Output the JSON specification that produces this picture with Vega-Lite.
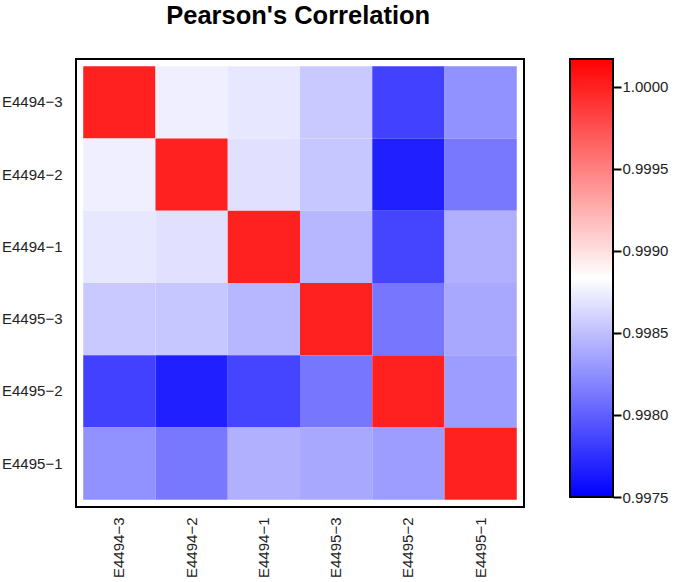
{
  "$schema": "https://vega.github.io/schema/vega-lite/v6.json",
  "padding": {"left": 0, "top": 3, "right": 5, "bottom": 5},
  "background": "white",
  "title": {"text": "Pearson's Correlation", "font": "Liberation Sans", "fontSize": 25.5, "fontWeight": "bold", "color": "black", "anchor": "middle", "dx": -36, "offset": 29},
  "config": {"font": "Liberation Sans"},
  "spacing": 44,
  "hconcat": [
    {
      "width": 448,
      "height": 448,
      "view": {"stroke": "black", "strokeWidth": 2},
      "data": {"values": [
        {"r": "E4494-3", "c": "E4494-3", "v": 1.0},
        {"r": "E4494-3", "c": "E4494-2", "v": 0.99875},
        {"r": "E4494-3", "c": "E4494-1", "v": 0.99871},
        {"r": "E4494-3", "c": "E4495-3", "v": 0.99855},
        {"r": "E4494-3", "c": "E4495-2", "v": 0.99784},
        {"r": "E4494-3", "c": "E4495-1", "v": 0.99826},
        {"r": "E4494-2", "c": "E4494-3", "v": 0.99875},
        {"r": "E4494-2", "c": "E4494-2", "v": 1.0},
        {"r": "E4494-2", "c": "E4494-1", "v": 0.99868},
        {"r": "E4494-2", "c": "E4495-3", "v": 0.99854},
        {"r": "E4494-2", "c": "E4495-2", "v": 0.99766},
        {"r": "E4494-2", "c": "E4495-1", "v": 0.99813},
        {"r": "E4494-1", "c": "E4494-3", "v": 0.99871},
        {"r": "E4494-1", "c": "E4494-2", "v": 0.99868},
        {"r": "E4494-1", "c": "E4494-1", "v": 1.0},
        {"r": "E4494-1", "c": "E4495-3", "v": 0.99846},
        {"r": "E4494-1", "c": "E4495-2", "v": 0.99786},
        {"r": "E4494-1", "c": "E4495-1", "v": 0.99842},
        {"r": "E4495-3", "c": "E4494-3", "v": 0.99855},
        {"r": "E4495-3", "c": "E4494-2", "v": 0.99854},
        {"r": "E4495-3", "c": "E4494-1", "v": 0.99846},
        {"r": "E4495-3", "c": "E4495-3", "v": 1.0},
        {"r": "E4495-3", "c": "E4495-2", "v": 0.99812},
        {"r": "E4495-3", "c": "E4495-1", "v": 0.99838},
        {"r": "E4495-2", "c": "E4494-3", "v": 0.99784},
        {"r": "E4495-2", "c": "E4494-2", "v": 0.99766},
        {"r": "E4495-2", "c": "E4494-1", "v": 0.99786},
        {"r": "E4495-2", "c": "E4495-3", "v": 0.99812},
        {"r": "E4495-2", "c": "E4495-2", "v": 1.0},
        {"r": "E4495-2", "c": "E4495-1", "v": 0.99832},
        {"r": "E4495-1", "c": "E4494-3", "v": 0.99826},
        {"r": "E4495-1", "c": "E4494-2", "v": 0.99813},
        {"r": "E4495-1", "c": "E4494-1", "v": 0.99842},
        {"r": "E4495-1", "c": "E4495-3", "v": 0.99838},
        {"r": "E4495-1", "c": "E4495-2", "v": 0.99832},
        {"r": "E4495-1", "c": "E4495-1", "v": 1.0}
      ]},
      "mark": {"type": "rect"},
      "encoding": {
        "x": {"field": "c", "type": "nominal", "sort": ["E4494-3", "E4494-2", "E4494-1", "E4495-3", "E4495-2", "E4495-1"],
              "scale": {"paddingInner": 0, "paddingOuter": 0.1},
              "axis": {"title": null, "labelAngle": 270, "labelFontSize": 15, "labelColor": "#222", "ticks": false, "domain": false, "labelPadding": 10, "labelBaseline": "middle",
                       "labelExpr": "replace(datum.label, '-', '\u2212')"}},
        "y": {"field": "r", "type": "nominal", "sort": ["E4494-3", "E4494-2", "E4494-1", "E4495-3", "E4495-2", "E4495-1"],
              "scale": {"paddingInner": 0, "paddingOuter": 0.1},
              "axis": {"title": null, "labelFontSize": 15, "labelColor": "#222", "ticks": false, "domain": false, "labelPadding": 14,
                       "labelExpr": "replace(datum.label, '-', '\u2212')"}},
        "color": {"field": "v", "type": "quantitative", "legend": null,
                  "scale": {"domain": [0.9975, 0.998835, 1.00017], "range": ["#0000ff", "#ffffff", "#ff0000"], "interpolate": "rgb"}}
      }
    },
    {
      "width": 43,
      "height": 438,
      "view": {"stroke": null},
      "data": {"values": [{"x0": 0, "x1": 1, "lo": 0.9975, "hi": 1.00017}]},
      "mark": {"type": "rect", "stroke": "black", "strokeWidth": 2,
               "color": {"gradient": "linear", "x1": 0, "y1": 1, "x2": 0, "y2": 0,
                         "stops": [{"offset": 0, "color": "#0000ff"}, {"offset": 0.5, "color": "#ffffff"}, {"offset": 1, "color": "#ff0000"}]}},
      "encoding": {
        "x": {"field": "x0", "type": "quantitative", "scale": {"domain": [0, 1], "nice": false}, "axis": null},
        "x2": {"field": "x1"},
        "y": {"field": "lo", "type": "quantitative", "scale": {"domain": [0.9975, 1.00017], "nice": false, "zero": false},
              "axis": {"orient": "right", "title": null, "values": [0.9975, 0.998, 0.9985, 0.999, 0.9995, 1.0], "format": ".4f",
                       "grid": false, "domain": false, "tickColor": "black", "tickWidth": 2, "tickSize": 8, "labelFontSize": 15, "labelColor": "#222", "labelPadding": 1}},
        "y2": {"field": "hi"}
      }
    }
  ]
}
